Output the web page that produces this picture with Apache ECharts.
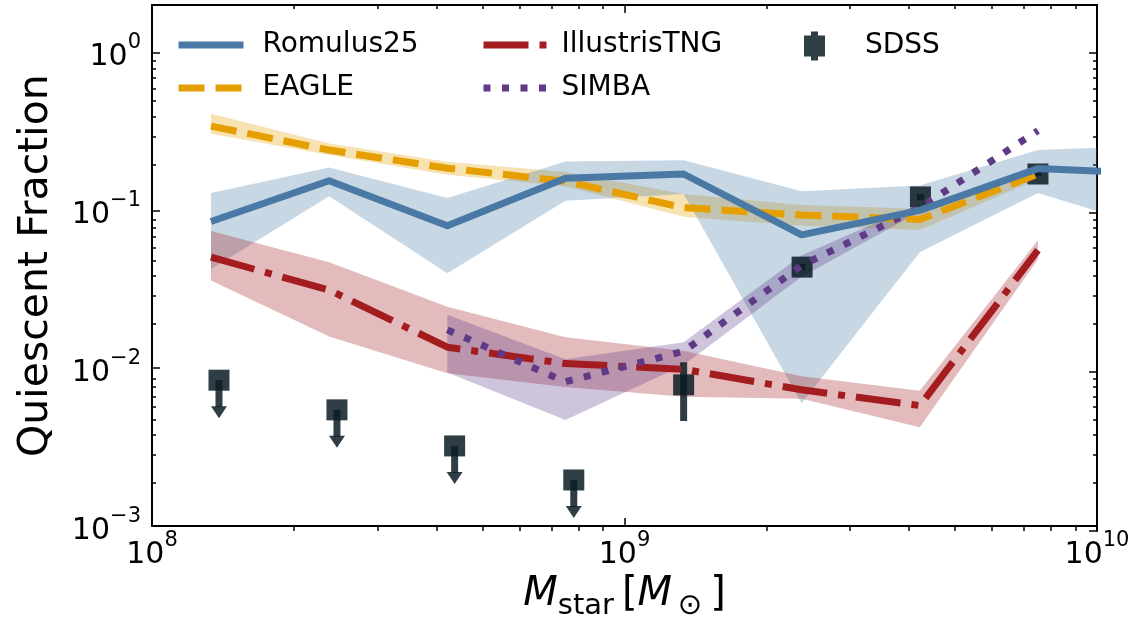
<!DOCTYPE html>
<html><head><meta charset="utf-8">
<script src="https://cdn.jsdelivr.net/npm/echarts@6/dist/echarts.min.js"></script>
<style>html,body{margin:0;padding:0;background:#fff}#c{width:1138px;height:626px}</style>
</head><body><div id="c"></div>
<script>
// ---------- data ----------
const massBins = [1.333e8, 2.371e8, 4.217e8, 7.499e8, 1.334e9, 2.371e9, 4.217e9, 7.499e9, 1.334e10];

const romulusFrac = [0.085, 0.154, 0.080, 0.160, 0.170, 0.070, 0.100, 0.184, 0.171];
const romulusLo   = [0.0426, 0.123, 0.040, 0.115, 0.127, 0.0060, 0.0542, 0.129, 0.076];
const romulusHi   = [0.129, 0.187, 0.120, 0.204, 0.208, 0.132, 0.144, 0.241, 0.257];

const eagleFrac = [0.342, 0.241, 0.185, 0.153, 0.104, 0.0935, 0.0877, 0.170];
const eagleLo   = [0.306, 0.224, 0.168, 0.142, 0.091, 0.080, 0.075, 0.158];
const eagleHi   = [0.409, 0.265, 0.203, 0.175, 0.127, 0.108, 0.1025, 0.185];

const tngFrac = [0.0505, 0.0313, 0.0136, 0.0107, 0.00985, 0.0073, 0.0058, 0.056];
const tngLo   = [0.036, 0.0159, 0.0093, 0.0076, 0.0066, 0.0064, 0.00423, 0.049];
const tngHi   = [0.074, 0.047, 0.0245, 0.0157, 0.0129, 0.0089, 0.0072, 0.0648];

const simbaFrac = [null, null, 0.0175, 0.0082, 0.0128, 0.0448, 0.104, 0.32];
const simbaLo   = [null, null, 0.0094, 0.0047, 0.0105, 0.038, 0.098, null];
const simbaHi   = [null, null, 0.0218, 0.0114, 0.0146, 0.052, 0.110, null];

const sdssMass  = [1.334e9, 2.376e9, 4.23e9, 7.50e9];
const sdssFrac  = [0.00785, 0.0437, 0.1217, 0.170];
const sdssErrLo = [0.00463, 0.0415, 0.116, 0.165];
const sdssErrHi = [0.0109, 0.046, 0.127, 0.176];

const sdssLimMass = [1.386e8, 2.463e8, 4.37e8, 7.81e8];
const sdssLimFrac = [0.0084, 0.00545, 0.00322, 0.00196];

const xMajorTicks = [1e8, 1e9, 1e10];
const xMinorTicks = [2e8,3e8,4e8,5e8,6e8,7e8,8e8,9e8,2e9,3e9,4e9,5e9,6e9,7e9,8e9,9e9];
const yMajorTicks = [1e-3, 1e-2, 1e-1, 1e0];
const yMinorTicks = [2e-3,3e-3,4e-3,5e-3,6e-3,7e-3,8e-3,9e-3,2e-2,3e-2,4e-2,5e-2,6e-2,7e-2,8e-2,9e-2,
                     2e-1,3e-1,4e-1,5e-1,6e-1,7e-1,8e-1,9e-1];

// ---------- styling ----------
const FONT = 'DejaVu Sans';
const C_ROM = '#4a79a5', C_EAG = '#e69f00', C_TNG = '#a31d20', C_SIM = '#5e3a87';
const C_SDSS = 'rgba(10,28,36,0.85)';
const LW = 7;

const chart = echarts.init(document.getElementById('c'), null, {renderer: 'canvas'});

function pairs(xs, ys) {
  const out = [];
  ys.forEach((y, i) => { if (y != null) out.push([xs[i], y]); });
  return out;
}
function bandSeries(name, lo, hi, fill) {
  const data = [];
  lo.forEach((l, i) => { if (l != null) data.push([massBins[i], l, hi[i]]); });
  return {
    type: 'custom', name: name, silent: true, data: data,
    encode: {x: 0, y: [1, 2]},
    renderItem: function (params, api) {
      if (params.dataIndex !== 0) return null;
      const top = data.map(d => api.coord([d[0], d[2]]));
      const bot = data.map(d => api.coord([d[0], d[1]])).reverse();
      const cs = params.coordSys;
      return {
        type: 'group',
        clipPath: {type: 'rect', shape: {x: cs.x, y: cs.y, width: cs.width, height: cs.height}},
        children: [{type: 'polygon', shape: {points: top.concat(bot)}, style: {fill: fill, stroke: null}}]
      };
    }
  };
}
function lineSeries(name, ys, color, type) {
  return {
    type: 'line', name: name, data: pairs(massBins, ys), symbol: 'none', showSymbol: false,
    silent: true, clip: true,
    lineStyle: {color: color, width: LW, type: type, cap: 'butt', join: 'round'},
    itemStyle: {color: color}
  };
}
function expLabel(v) {
  const e = Math.round(Math.log10(v));
  return '{b|10}{s|' + (e < 0 ? '\u2212' + (-e) : e) + '}';
}
const labelRich = {
  b: {fontSize: 30, fontFamily: FONT, color: '#000', lineHeight: 40, verticalAlign: 'bottom'},
  s: {fontSize: 21, fontFamily: FONT, color: '#000', lineHeight: 21, verticalAlign: 'top'}
};
const gridBox = {left: 152, right: 41, top: 5, bottom: 95};

function axisBase(type, pos, min, max, ticks, len, gridIndex, showLine) {
  return {
    type: 'log', logBase: 10, gridIndex: gridIndex, position: pos, min: min, max: max,
    axisLine: {show: showLine, onZero: false, lineStyle: {color: '#000', width: 2}},
    axisTick: {show: true, inside: true, length: len, customValues: ticks, lineStyle: {color: '#000', width: 1.5}},
    axisLabel: {show: false},
    splitLine: {show: false}, minorTick: {show: false}, minorSplitLine: {show: false}
  };
}

const xMain = axisBase('x', 'bottom', 1e8, 1e10, xMajorTicks, 8, 0, true);
xMain.axisLabel = {show: true, customValues: xMajorTicks, formatter: expLabel, rich: labelRich, margin: 4};
xMain.name = '{it|M}{sub|star}{n|\u2009[}{it|M}{sub2|\u2009\u2299}{n|\u2009]}';
xMain.nameLocation = 'middle';
xMain.nameGap = 46;
xMain.nameTextStyle = {
  rich: {
    it: {fontSize: 40, fontFamily: FONT, fontStyle: 'italic', color: '#000', lineHeight: 46, verticalAlign: 'top'},
    sub: {fontSize: 29, fontFamily: FONT, color: '#000', lineHeight: 46, verticalAlign: 'bottom'},
    sub2: {fontSize: 29, fontFamily: FONT, color: '#000', lineHeight: 46, verticalAlign: 'bottom'},
    n: {fontSize: 40, fontFamily: FONT, color: '#000', lineHeight: 46, verticalAlign: 'top'}
  }
};

const yMain = axisBase('y', 'left', 1e-3, 2, yMajorTicks, 8, 0, true);
yMain.axisLabel = {show: true, customValues: yMajorTicks, formatter: expLabel, rich: labelRich, margin: 11};
yMain.name = 'Quiescent Fraction';
yMain.nameLocation = 'middle';
yMain.nameGap = 95;
yMain.nameTextStyle = {fontSize: 41, fontFamily: FONT, color: '#000'};

function legendText(padLeft) {
  return {fontSize: 28, fontFamily: FONT, color: '#000', lineHeight: 30, padding: [0, 0, 0, padLeft]};
}

const option = {
  backgroundColor: '#fff',
  animation: false,
  textStyle: {fontFamily: FONT},
  grid: [Object.assign({}, gridBox), Object.assign({}, gridBox), Object.assign({}, gridBox), Object.assign({}, gridBox)],
  xAxis: [
    xMain,
    axisBase('x', 'top', 1e8, 1e10, xMajorTicks, 8, 1, true),
    axisBase('x', 'bottom', 1e8, 1e10, xMinorTicks, 4, 2, false),
    axisBase('x', 'top', 1e8, 1e10, xMinorTicks, 4, 3, false)
  ],
  yAxis: [
    yMain,
    axisBase('y', 'right', 1e-3, 2, yMajorTicks, 8, 1, true),
    axisBase('y', 'left', 1e-3, 2, yMinorTicks, 4, 2, false),
    axisBase('y', 'right', 1e-3, 2, yMinorTicks, 4, 3, false)
  ],
  legend: [
    {data: ['Romulus25', 'EAGLE'], orient: 'vertical', left: 175, top: 30, padding: 0,
     itemWidth: 65, itemHeight: 30, itemGap: 13, selectedMode: false,
     itemStyle: {opacity: 0}, lineStyle: {width: 7},
     textStyle: legendText(14)},
    {data: ['IllustrisTNG', 'SIMBA'], orient: 'vertical', left: 480, top: 30, padding: 0,
     itemWidth: 65, itemHeight: 30, itemGap: 13, selectedMode: false,
     itemStyle: {opacity: 0}, lineStyle: {width: 7},
     textStyle: legendText(8)},
    {data: [{name: 'SDSS', icon: 'path://M0,4 L21,4 L21,25 L0,25 Z M7,0 L14,0 L14,29 L7,29 Z', itemStyle: {color: C_SDSS}}],
     orient: 'vertical', left: 804, top: 31, padding: 0,
     itemWidth: 65, itemHeight: 29, itemGap: 13, selectedMode: false,
     textStyle: legendText(13)}
  ],
  series: [
    bandSeries('EAGLE band', eagleLo, eagleHi, 'rgba(230,159,0,0.3)'),
    lineSeries('EAGLE', eagleFrac, C_EAG, [26, 11]),
    bandSeries('Romulus band', romulusLo, romulusHi, 'rgba(74,121,165,0.3)'),
    bandSeries('TNG band', tngLo, tngHi, 'rgba(163,29,32,0.3)'),
    bandSeries('SIMBA band', simbaLo, simbaHi, 'rgba(94,58,135,0.3)'),
    lineSeries('IllustrisTNG', tngFrac, C_TNG, [45, 11, 7, 11]),
    lineSeries('SIMBA', simbaFrac, C_SIM, [7, 11.5]),
    lineSeries('Romulus25', romulusFrac, C_ROM, 'solid'),
    {
      type: 'custom', name: 'SDSS', silent: true,
      data: sdssMass.map((m, i) => [m, sdssFrac[i], sdssErrLo[i], sdssErrHi[i]]),
      encode: {x: 0, y: [1, 2, 3]},
      itemStyle: {color: C_SDSS},
      renderItem: function (params, api) {
        const p = api.coord([api.value(0), api.value(1)]);
        const lo = api.coord([api.value(0), api.value(2)]);
        const hi = api.coord([api.value(0), api.value(3)]);
        return {type: 'group', children: [
          {type: 'line', shape: {x1: p[0], y1: hi[1], x2: p[0], y2: lo[1]}, style: {stroke: C_SDSS, lineWidth: 7}},
          {type: 'rect', shape: {x: p[0] - 10.5, y: p[1] - 10.5, width: 21, height: 21}, style: {fill: C_SDSS}}
        ]};
      }
    },
    {
      type: 'custom', name: 'SDSS', silent: true,
      data: sdssLimMass.map((m, i) => [m, sdssLimFrac[i]]),
      encode: {x: 0, y: 1},
      itemStyle: {color: C_SDSS},
      renderItem: function (params, api) {
        const p = api.coord([api.value(0), api.value(1)]);
        return {type: 'group', children: [
          {type: 'rect', shape: {x: p[0] - 10.5, y: p[1] - 10.5, width: 21, height: 21}, style: {fill: C_SDSS}},
          {type: 'line', shape: {x1: p[0], y1: p[1], x2: p[0], y2: p[1] + 27}, style: {stroke: C_SDSS, lineWidth: 7}},
          {type: 'polygon', shape: {points: [[p[0] - 8, p[1] + 26], [p[0] + 8, p[1] + 26], [p[0], p[1] + 38]]}, style: {fill: C_SDSS}}
        ]};
      }
    }
  ]
};
chart.setOption(option);
</script></body></html>
